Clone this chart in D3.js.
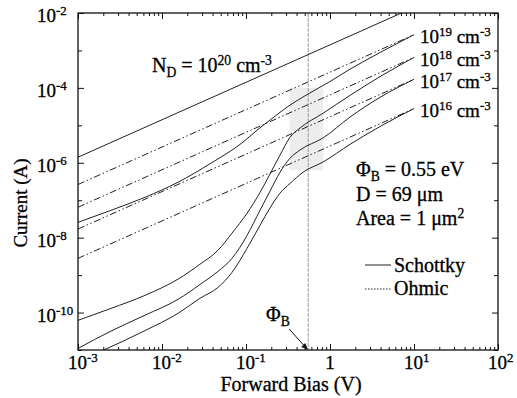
<!DOCTYPE html>
<html><head><meta charset="utf-8">
<script src="https://cdn.jsdelivr.net/npm/d3@7"></script>
<style>
body{margin:0;background:#fff;}
svg{display:block;}
</style></head><body>
<svg id="c" width="517" height="398" font-family="Liberation Serif"></svg>
<script>
// ---------- data ----------
const xDomain = [1e-3, 1e2];
const yDomain = [1e-11, 1e-2];
const xTicks = [1e-3, 1e-2, 1e-1, 1, 1e1, 1e2];
const xTickLabels = [["10","-3"],["10","-2"],["10","-1"],["1",""],["10","1"],["10","2"]];
const yTicks = [1e-2, 1e-4, 1e-6, 1e-8, 1e-10];
const yTickLabels = [["10","-2"],["10","-4"],["10","-6"],["10","-8"],["10","-10"]];
const yMinorTicks = [1e-3, 1e-5, 1e-7, 1e-9, 1e-11];

const dopingExp = ["19","18","17","16"];

// Ohmic lines [V, I]
const ohmic19 = [[1e-3, 2.63e-7], [10, 2.63e-3]];
const ohmic18 = [[1e-3, 6.5e-8], [10, 6.5e-4]];
const ohmic17 = [[1e-3, 1.7e-8], [10, 1.7e-4]];
const ohmic16 = [[1e-3, 2.8e-9], [10, 2.8e-5]];

// Schottky curves [V, I]
const schottky20 = [[1e-3, 1.41e-6], [10, 1.41e-2]];
const schottky19 = [[1e-3,2.57e-8],[2.47e-3,5.37e-8],[6.28e-3,1.2e-7],[1.55e-2,3.02e-7],[3.83e-2,9.77e-7],
  [9.2e-2,3.55e-6],[0.135,7.4e-6],[0.193,1.38e-5],[0.334,3.47e-5],[0.532,6.6e-5],[1,1.48e-4],
  [1.73,3.16e-4],[3.94,8.8e-4],[10,2.63e-3]];
const schottky18 = [[1e-3,6.2e-11],[2.47e-3,1.29e-10],[6.28e-3,2.88e-10],[1.55e-2,7.8e-10],[2.83e-2,1.95e-9],
  [4.64e-2,4.6e-9],[6.81e-2,1.32e-8],[0.103,4.5e-8],[0.147,1.62e-7],[0.193,5.0e-7],[0.254,1.6e-6],
  [0.334,4.8e-6],[0.44,8.5e-6],[0.826,2.1e-5],[1.73,6.3e-5],[3.94,2.0e-4],[10,6.5e-4]];
const schottky17 = [[1e-3,1.1e-11],[2.47e-3,3.2e-11],[6.28e-3,8.5e-11],[1.55e-2,2.25e-10],[2.83e-2,5.6e-10],
  [4.64e-2,1.26e-9],[6.81e-2,2.8e-9],[0.103,1.15e-8],[0.147,5.4e-8],[0.193,1.74e-7],[0.254,5.6e-7],
  [0.334,1.32e-6],[0.44,2.2e-6],[0.826,4.6e-6],[1.73,1.66e-5],[3.94,5.6e-5],[10,1.7e-4]];
const schottky16 = [[1e-3,5e-12],[1.99e-3,9.8e-12],[6.28e-3,3.3e-11],[1.55e-2,9.5e-11],[2.83e-2,2.4e-10],
  [4.64e-2,4.7e-10],[6.81e-2,1.18e-9],[0.103,5.2e-9],[0.147,2.15e-8],[0.193,6.2e-8],[0.254,1.55e-7],
  [0.334,2.8e-7],[0.478,5.6e-7],[0.826,1.05e-6],[1.73,3.1e-6],[3.94,9.3e-6],[10,2.8e-5]];

const phiB = 0.55;
const shadeV = [0.33, 0.83];
const shadeI = [6.3e-7, 1e-4];

// ---------- layout ----------
const svg = d3.select("#c");
const L = 78, R = 498, T = 13, B = 350;
const x = d3.scaleLog().domain(xDomain).range([L, R]);
const y = d3.scaleLog().domain(yDomain).range([B, T]);

svg.append("defs").append("clipPath").attr("id","clip")
  .append("rect").attr("x",L).attr("y",T).attr("width",R-L).attr("height",B-T);

// shading band
svg.append("rect")
  .attr("x", x(shadeV[0])).attr("width", x(shadeV[1]) - x(shadeV[0]))
  .attr("y", y(shadeI[1])).attr("height", y(shadeI[0]) - y(shadeI[1]))
  .attr("fill", "#ededed");

// phi_B vertical line
svg.append("line")
  .attr("x1", x(phiB)).attr("x2", x(phiB)).attr("y1", T).attr("y2", B)
  .attr("stroke", "#9a9a9a").attr("stroke-width", 1).attr("stroke-dasharray", "4,1");

const line = d3.line().x(d => x(d[0])).y(d => y(d[1])).curve(d3.curveMonotoneX);
const g = svg.append("g").attr("clip-path", "url(#clip)");

const dashOhmic = "7,2.5,1.5,2.5,1.5,2.5";
[ohmic19, ohmic18, ohmic17, ohmic16].forEach(d => {
  g.append("path").attr("d", line(d)).attr("fill","none")
    .attr("stroke","#222").attr("stroke-width",1).attr("stroke-dasharray", dashOhmic);
});
[schottky20, schottky19, schottky18, schottky17, schottky16].forEach(d => {
  g.append("path").attr("d", line(d)).attr("fill","none")
    .attr("stroke","#222").attr("stroke-width",1);
});

// ---------- axes ----------
const xMinor = [];
for (let e = -3; e < 2; e++) for (let k = 2; k <= 9; k++) xMinor.push(k * Math.pow(10, e));

function axisG(axis, tx, ty) {
  const a = svg.append("g").attr("transform", `translate(${tx},${ty})`).call(axis);
  a.select(".domain").remove();
  a.selectAll("line").attr("stroke","#111");
  return a;
}
axisG(d3.axisBottom(x).tickValues(xTicks).tickSize(-6).tickFormat(""), 0, B);
axisG(d3.axisBottom(x).tickValues(xMinor).tickSize(-3).tickFormat(""), 0, B);
axisG(d3.axisTop(x).tickValues(xTicks).tickSize(-6).tickFormat(""), 0, T);
axisG(d3.axisTop(x).tickValues(xMinor).tickSize(-3).tickFormat(""), 0, T);
axisG(d3.axisLeft(y).tickValues(yTicks).tickSize(-6).tickFormat(""), L, 0);
axisG(d3.axisLeft(y).tickValues(yMinorTicks).tickSize(-4).tickFormat(""), L, 0);
axisG(d3.axisRight(y).tickValues(yTicks).tickSize(-6).tickFormat(""), R, 0);
axisG(d3.axisRight(y).tickValues(yMinorTicks).tickSize(-4).tickFormat(""), R, 0);

svg.append("rect").attr("x",L).attr("y",T).attr("width",R-L).attr("height",B-T)
  .attr("fill","none").attr("stroke","#111").attr("stroke-width",1.3);

// rich text helper: parts = [[text, mode]] mode: "", "sup", "sub"
function rich(px, py, parts, size, anchor) {
  const t = svg.append("text").attr("x", px).attr("y", py)
    .attr("font-size", size).attr("text-anchor", anchor || "start")
    .attr("fill", "#000").attr("stroke", "#000").attr("stroke-width", 0.3);
  let cur = 0;
  parts.forEach(([s, m]) => {
    let target = m === "sup" ? -0.36 * size : m === "sub" ? 0.26 * size : 0;
    const ts = t.append("tspan").text(s).attr("dy", target - cur);
    if (m) ts.attr("font-size", size * 0.68);
    cur = target;
  });
  return t;
}

// x tick labels
xTicks.forEach((v, i) => {
  const [b, e] = xTickLabels[i];
  if (e === "") rich(x(v), 369, [[b, ""]], 19, "middle");
  else rich(x(v) - 10, 369, [[b, ""], [e, "sup"]], 19, "start");
});
// y tick labels
yTicks.forEach((v, i) => {
  const [b, e] = yTickLabels[i];
  rich(37, y(v) + 9, [[b, ""], [e, "sup"]], 19, "start");
});

// axis titles
rich(291, 391, [["Forward Bias (V)", ""]], 20, "middle");
svg.append("text").attr("transform", "translate(27,203) rotate(-90)").attr("text-anchor","middle")
  .attr("font-size", 19).attr("fill","#000").attr("stroke","#000").attr("stroke-width",0.3)
  .text("Current (A)");

// doping labels at line ends
[ohmic19, ohmic18, ohmic17, ohmic16].forEach((d, i) => {
  const end = d[d.length - 1];
  rich(x(end[0]) + 6, y(end[1]) + 8.5, [["10",""],[dopingExp[i],"sup"],[" cm",""],["-3","sup"]], 19, "start");
});
rich(152, 72, [["N",""],["D","sub"],[" = 10",""],["20","sup"],[" cm",""],["-3","sup"]], 20, "start");

// parameter box
rich(356, 176, [["\u03A6",""],["B","sub"],[" = 0.55 eV",""]], 20, "start");
rich(356, 201, [["D = 69 \u03BCm",""]], 20, "start");
rich(356, 225, [["Area = 1 \u03BCm",""],["2","sup"]], 20, "start");

// legend
svg.append("line").attr("x1",365).attr("x2",391).attr("y1",265).attr("y2",265)
  .attr("stroke","#222").attr("stroke-width",1);
svg.append("line").attr("x1",365).attr("x2",391).attr("y1",289).attr("y2",289)
  .attr("stroke","#222").attr("stroke-width",1).attr("stroke-dasharray","1.5,1.5");
rich(394, 272, [["Schottky",""]], 20, "start");
rich(394, 295, [["Ohmic",""]], 20, "start");

// phi_B arrow label
rich(266, 321, [["\u03A6",""],["B","sub"]], 20, "start");
const tipX = x(phiB), tipY = B;
svg.append("line").attr("x1", tipX - 19).attr("y1", tipY - 21).attr("x2", tipX - 2).attr("y2", tipY - 2)
  .attr("stroke","#111").attr("stroke-width",1);
svg.append("path")
  .attr("d", `M${tipX},${tipY} L${tipX-7},${tipY-3} L${tipX-3},${tipY-7} Z`)
  .attr("fill","#111");
</script>
</body></html>
